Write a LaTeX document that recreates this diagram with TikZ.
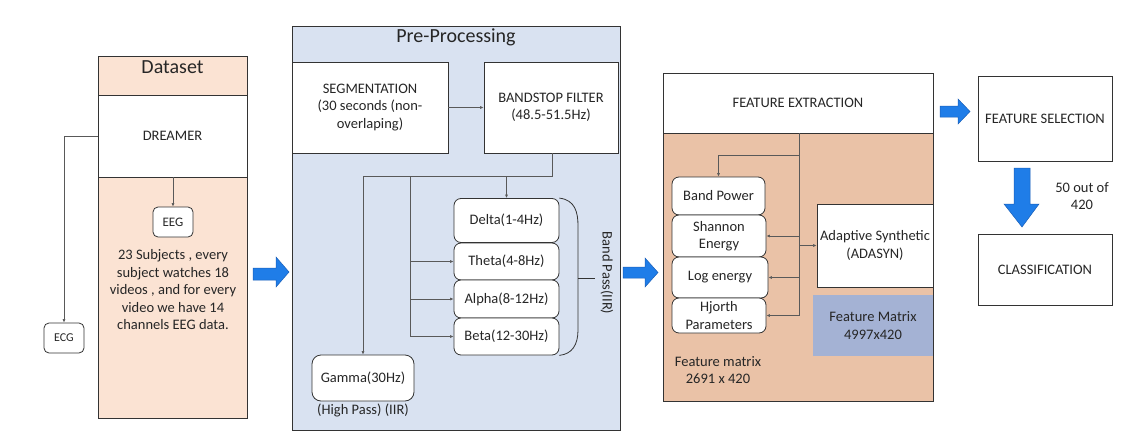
\documentclass[tikz,border=0pt]{standalone}
\usepackage{fontspec}
\setmainfont{Carlito}
\usetikzlibrary{arrows.meta}
\definecolor{peach}{HTML}{FBE3D3}
\definecolor{salmon}{HTML}{EAC2A7}
\definecolor{paleblue}{HTML}{D9E2F1}
\definecolor{fmblue}{HTML}{A4B2D4}
\definecolor{arrowblue}{HTML}{1F7DE8}
\definecolor{arrowedge}{HTML}{1A5FB8}
\tikzset{
  x=1pt, y=-1pt,
  every node/.style={font=\fontsize{14.5}{17.5}\selectfont, inner sep=0pt, align=center, text=black!85},
  sqbox/.style={draw=black!80, line width=0.8pt, fill=white},
  rbox/.style={draw=black!80, line width=0.8pt, fill=white, rounded corners=7pt},
  panel/.style={draw=black!80, line width=0.8pt},
  conn/.style={draw=black!65, line width=0.6pt, -{Latex[length=3.5pt,width=3pt]}},
  wire/.style={draw=black!65, line width=0.6pt},
  bigarrow/.style={fill=arrowblue, draw=arrowedge, line width=0.5pt},
  title/.style={font=\fontsize{20}{24}\selectfont}
}
\begin{document}
\begin{tikzpicture}
\useasboundingbox (0,0) rectangle (1130,447);
\fill[white] (0,0) rectangle (1130,447);

% ---------------- Dataset ----------------
\node[panel, fill=peach, minimum width=149pt, minimum height=362pt] (dataset) at (172.5,237) {};
\node[title] (datasettitle) at (172.5,67) {Dataset};
\node[sqbox, minimum width=149pt, minimum height=82pt] (dreamer) at (172.5,136) {DREAMER};
\node[rbox, rounded corners=5pt, minimum width=40pt, minimum height=30pt, font=\fontsize{13}{15}\selectfont] (eeg) at (173,222) {EEG};
\node (eegtext) at (173,290) {23 Subjects , every\\subject watches 18\\videos , and for every\\video we have 14\\channels EEG data.};
\node[rbox, rounded corners=5pt, minimum width=40pt, minimum height=30pt, font=\fontsize{12}{14}\selectfont] (ecg) at (64,338) {ECG};
\draw[conn] (dreamer.west) -| (ecg.north);
\draw[conn] (dreamer.south -| eeg.north) -- (eeg.north);

\path[bigarrow] (253,268) -- (276,268) -- (276,257) -- (289,272) -- (276,287) -- (276,280) -- (253,280) -- cycle;

% ---------------- Pre-Processing ----------------
\node[panel, fill=paleblue, minimum width=328pt, minimum height=404pt] (pre) at (456,228) {};
\node[title] (pretitle) at (456,37) {Pre-Processing};
\node[sqbox, minimum width=156pt, minimum height=91pt] (seg) at (370,107.5) {SEGMENTATION\\(30 seconds (non-\\overlaping)};
\node[sqbox, minimum width=134pt, minimum height=91pt] (band) at (551,107.5) {BANDSTOP FILTER\\(48.5-51.5Hz)};
\draw[conn] (seg) -- (band);

\node[rbox, minimum width=105pt, minimum height=44pt] (delta) at (506.5,220.5) {Delta(1-4Hz)};
\node[rbox, minimum width=105pt, minimum height=37pt] (theta) at (506.5,261.5) {Theta(4-8Hz)};
\node[rbox, minimum width=105pt, minimum height=38pt] (alpha) at (506.5,299) {Alpha(8-12Hz)};
\node[rbox, minimum width=105pt, minimum height=37pt] (beta) at (506.5,336.5) {Beta(12-30Hz)};
\node[rbox, rounded corners=9pt, minimum width=102pt, minimum height=46pt] (gamma) at (363,378) {Gamma(30Hz)};
\node (highpass) at (363,410) {(High Pass) (IIR)};

\coordinate (jr) at (552,176);
\coordinate (jm) at (410,176);
\coordinate (jl) at (363,176);
\draw[wire] (band.south -| jr) -- (jr) -- (jl);
\draw[conn] (jl) -- (gamma.north);
\draw[conn] (jr -| delta.north) -- (delta.north);
\draw[wire] (jm) -- (jm |- beta.west);
\draw[conn] (jm |- theta.west) -- (theta.west);
\draw[conn] (jm |- alpha.west) -- (alpha.west);
\draw[conn] (jm |- beta.west) -- (beta.west);

\draw[wire, draw=black!80, line width=0.8pt] (delta.north east) .. controls (575,200) and (578,212) .. (578,226) -- (578,330) .. controls (578,345) and (572,354) .. (beta.south east);
\coordinate (tick) at (595,278);
\draw[wire, draw=black!80, line width=0.8pt] (578,278) -- (tick);
\node[rotate=-90] (bandpass) at (607,273) {Band Pass(IIR)};

\path[bigarrow] (623,267) -- (645,267) -- (645,258) -- (658,272.5) -- (645,287) -- (645,278) -- (623,278) -- cycle;

% ---------------- Feature extraction ----------------
\node[panel, fill=salmon, minimum width=270pt, minimum height=328pt] (fepanel) at (798,237) {};
\node[sqbox, minimum width=270pt, minimum height=60pt] (fe) at (798,103) {FEATURE EXTRACTION};
\node[rbox, minimum width=93pt, minimum height=38pt] (bp) at (718.5,196) {Band Power};
\node[rbox, minimum width=94pt, minimum height=42pt] (shannon) at (719,236) {Shannon\\Energy};
\node[rbox, minimum width=96pt, minimum height=41pt] (logen) at (720,277.5) {Log energy};
\node[rbox, minimum width=94pt, minimum height=35pt] (hjorth) at (719,315.5) {Hjorth\\Parameters};
\node[sqbox, minimum width=116pt, minimum height=83pt] (adasyn) at (875,245.5) {Adaptive Synthetic\\(ADASYN)};
\node[fill=fmblue, minimum width=120pt, minimum height=61pt] (fm) at (873,325.5) {Feature Matrix\\4997x420};
\node (fmtext) at (718,370) {Feature matrix\\2691 x 420};

\coordinate (vt) at (799,133);
\coordinate (vbr) at (799,155);
\draw[wire] (vt) -- (vt |- hjorth.east);
\draw[conn] (vbr) -| (bp.north);
\draw[conn] (vt |- shannon.east) -- (shannon.east);
\draw[conn] (vt |- logen.east) -- (logen.east);
\draw[conn] (vt |- hjorth.east) -- (hjorth.east);
\draw[conn] (vt |- adasyn.west) -- (adasyn.west);

\path[bigarrow] (940,106) -- (958,106) -- (958,99) -- (970,111.5) -- (958,124) -- (958,117) -- (940,117) -- cycle;

% ---------------- Selection / classification ----------------
\node[sqbox, minimum width=134pt, minimum height=85pt] (fs) at (1045,118.5) {FEATURE SELECTION};
\node[sqbox, minimum width=134pt, minimum height=71pt] (cls) at (1045,269.5) {CLASSIFICATION};
\path[bigarrow] (1014,168) -- (1030,168) -- (1030,204) -- (1039,204) -- (1022,227) -- (1004,204) -- (1014,204) -- cycle;
\node (fifty) at (1082,196) {50 out of\\420};
\end{tikzpicture}
\end{document}
